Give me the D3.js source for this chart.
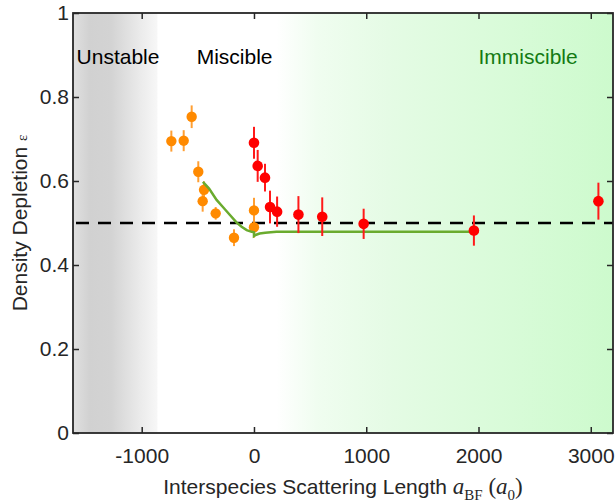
<!DOCTYPE html>
<html>
<head>
<meta charset="utf-8">
<script src="https://cdn.jsdelivr.net/npm/d3@7"></script>
<style>
  body { margin: 0; background: #fff; }
  svg { display: block; font-family: "Liberation Sans", Arial, Helvetica, sans-serif; }
  .tick text { fill: #262626; font-size: 21px; }
  .tick line { stroke: #262626; stroke-width: 1.5; }
</style>
</head>
<body>
<div id="chart"></div>
<script>
// measured points (orange set)
const orangeX = [-736, -626, -555, -496, -445, -457, -341, -178, 0, 0];
const orangeY = [0.695, 0.696, 0.753, 0.622, 0.579, 0.552, 0.523, 0.465, 0.530, 0.490];
const orangeErr = [0.025, 0.025, 0.027, 0.025, 0.02, 0.025, 0.015, 0.02, 0.03, 0.025];

// measured points (red set)
const redX = [0, 33, 98, 143, 206, 396, 608, 977, 1959, 3068];
const redY = [0.691, 0.636, 0.608, 0.538, 0.527, 0.520, 0.515, 0.498, 0.482, 0.552];
const redErr = [0.038, 0.038, 0.033, 0.039, 0.036, 0.044, 0.046, 0.036, 0.036, 0.044];

// theory curve
const fitX = [-455, -400, -333, -273, -214, -154, -110, -65, -20, 0, 0, 20, 50, 100, 200, 400, 800, 2000];
const fitY = [0.598, 0.582, 0.555, 0.537, 0.519, 0.501, 0.491, 0.483, 0.479, 0.478, 0.469, 0.472, 0.475, 0.477, 0.479, 0.479, 0.479, 0.479];

const xTicks = [-1000, 0, 1000, 2000, 3000];
const yTicks = [0, 0.2, 0.4, 0.6, 0.8, 1];

const unstableEdge = -860;
const immiscibleStart = 200;
const regionLabels = [
  { text: 'Unstable', x: -1580, color: '#000' },
  { text: 'Miscible', x: -510, color: '#000' },
  { text: 'Immiscible', x: 2000, color: '#137a13' }
];

const W = 615, H = 502;
const margin = { top: 13, right: 2, bottom: 69, left: 73 };
const width = W - margin.left - margin.right;
const height = H - margin.top - margin.bottom;

const svg = d3.select('#chart').append('svg')
  .attr('width', W)
  .attr('height', H);

const defs = svg.append('defs');
const grayGrad = defs.append('linearGradient').attr('id', 'grayGrad');
[[0, '#e0e0e0'], [0.2, '#d1d1d1'], [0.45, '#d3d3d3'], [0.8, '#ebebeb'], [1, '#f7f7f7']]
  .forEach(s => grayGrad.append('stop').attr('offset', s[0]).attr('stop-color', s[1]));
const greenGrad = defs.append('linearGradient').attr('id', 'greenGrad');
[[0, '#ffffff'], [0.12, '#f0fdf0'], [0.35, '#e4fbe4'], [0.7, '#d8fbd8'], [1, '#cdfacd']]
  .forEach(s => greenGrad.append('stop').attr('offset', s[0]).attr('stop-color', s[1]));

const g = svg.append('g').attr('transform', `translate(${margin.left},${margin.top})`);

const x = d3.scaleLinear().domain([-1612, 3198]).range([0, width]);
const y = d3.scaleLinear().domain([0, 1]).range([height, 0]);

// background regions
g.append('rect')
  .attr('x', 0).attr('y', 0)
  .attr('width', x(unstableEdge)).attr('height', height)
  .attr('fill', 'url(#grayGrad)');
g.append('rect')
  .attr('x', x(immiscibleStart)).attr('y', 0)
  .attr('width', width - x(immiscibleStart)).attr('height', height)
  .attr('fill', 'url(#greenGrad)');

g.selectAll('.region-label').data(regionLabels).enter()
  .append('text')
  .attr('class', 'region-label')
  .attr('x', d => x(d.x))
  .attr('y', y(0.879))
  .attr('font-size', 21)
  .attr('fill', d => d.color)
  .text(d => d.text);

// reference line at 0.5
g.append('line')
  .attr('x1', 3).attr('x2', width)
  .attr('y1', y(0.5)).attr('y2', y(0.5))
  .attr('stroke', '#000')
  .attr('stroke-width', 2.5)
  .attr('stroke-dasharray', '13,9');

function drawSet(xs, ys, errs, color, barColor, r) {
  const pts = xs.map((v, i) => ({ x: v, y: ys[i], e: errs[i] }));
  const grp = g.append('g');
  grp.selectAll('line').data(pts).enter()
    .append('line')
    .attr('x1', d => x(d.x)).attr('x2', d => x(d.x))
    .attr('y1', d => y(d.y - d.e)).attr('y2', d => y(d.y + d.e))
    .attr('stroke', barColor)
    .attr('stroke-width', 2);
  grp.selectAll('circle').data(pts).enter()
    .append('circle')
    .attr('cx', d => x(d.x)).attr('cy', d => y(d.y))
    .attr('r', r)
    .attr('fill', color);
}
drawSet(orangeX, orangeY, orangeErr, '#ff8a00', '#ff9f33', 5.2);

// theory line
const line = d3.line().x(d => x(d[0])).y(d => y(d[1]));
g.append('path')
  .datum(fitX.map((v, i) => [v, fitY[i]]))
  .attr('d', line)
  .attr('fill', 'none')
  .attr('stroke', '#6aab2e')
  .attr('stroke-width', 2.5);

drawSet(redX, redY, redErr, '#ff0000', '#ff1a1a', 5.3);

// axes, ticks inward on all sides
g.append('g')
  .attr('transform', `translate(0,${height})`)
  .call(d3.axisBottom(x).tickValues(xTicks).tickSize(-6).tickPadding(15).tickFormat(d3.format('d')))
  .call(a => a.select('.domain').remove());
g.append('g')
  .call(d3.axisTop(x).tickValues(xTicks).tickSize(-6).tickFormat(''))
  .call(a => a.select('.domain').remove());
g.append('g')
  .call(d3.axisLeft(y).tickValues(yTicks).tickSize(-6).tickPadding(4).tickFormat(d => d === 0 || d === 1 ? d : d3.format('.1f')(d)))
  .call(a => a.select('.domain').remove());
g.append('g')
  .attr('transform', `translate(${width},0)`)
  .call(d3.axisRight(y).tickValues(yTicks).tickSize(-6).tickFormat(''))
  .call(a => a.select('.domain').remove());

g.selectAll('.tick text').attr('font-family', null).attr('font-size', null);
g.selectAll('.tick text').filter(function () { return this.textContent.startsWith('−'); })
  .text(function () { return this.textContent.replace('−', '-'); });

g.append('rect')
  .attr('width', width).attr('height', height)
  .attr('fill', 'none')
  .attr('stroke', '#262626')
  .attr('stroke-width', 1.8);

// axis titles
const serif = '"Liberation Serif", "Times New Roman", serif';
const xl = svg.append('text')
  .attr('x', margin.left + width / 2)
  .attr('y', 494)
  .attr('text-anchor', 'middle')
  .attr('font-size', 21)
  .attr('fill', '#262626');
xl.append('tspan').text('Interspecies Scattering Length ');
xl.append('tspan').attr('font-family', serif).attr('font-style', 'italic').attr('font-size', 23).text('a');
xl.append('tspan').attr('font-family', serif).attr('font-size', 15).attr('dy', 6).text('BF');
xl.append('tspan').attr('font-family', serif).attr('font-size', 23).attr('dy', -6).text(' (');
xl.append('tspan').attr('font-family', serif).attr('font-style', 'italic').attr('font-size', 23).text('a');
xl.append('tspan').attr('font-family', serif).attr('font-size', 15).attr('dy', 6).text('0');
xl.append('tspan').attr('font-family', serif).attr('font-size', 23).attr('dy', -6).text(')');

const yl = svg.append('text')
  .attr('transform', `translate(27,${margin.top + height / 2}) rotate(-90)`)
  .attr('text-anchor', 'middle')
  .attr('font-size', 21)
  .attr('fill', '#262626');
yl.append('tspan').text('Density Depletion ');
yl.append('tspan').attr('font-family', serif).attr('font-size', 15).text('ε');
</script>
</body>
</html>
